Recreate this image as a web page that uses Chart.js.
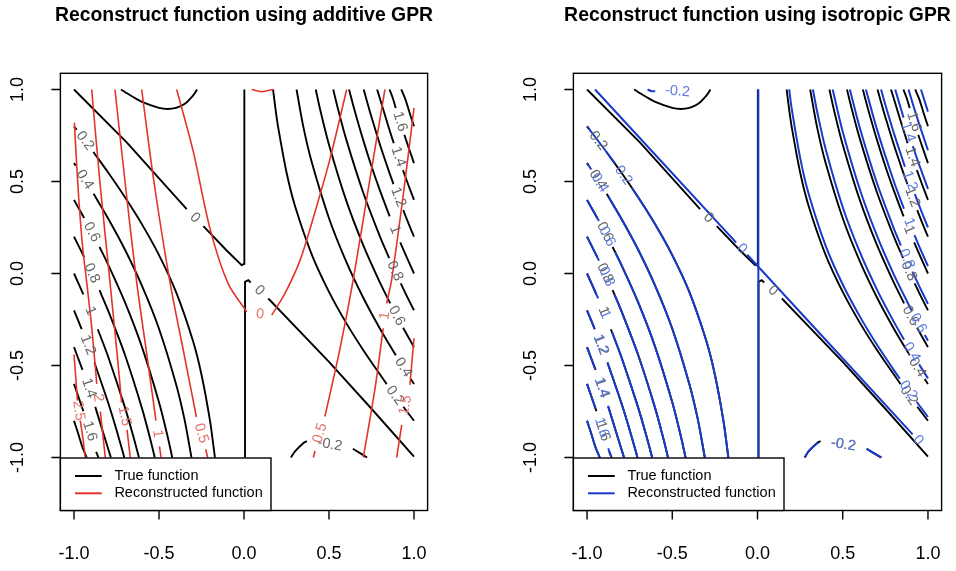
<!DOCTYPE html>
<html>
<head>
<meta charset="utf-8">
<script src="https://cdn.jsdelivr.net/npm/chart.js@4.4.1/dist/chart.umd.min.js"></script>
<style>
  html, body { margin: 0; padding: 0; background: #fff; }
  .panel { position: absolute; top: 0; width: 478px; height: 571px; }
  #left { left: 0; }
  #right { left: 478px; }
</style>
</head>
<body>
<div class="panel" id="left"><canvas id="additive" width="478" height="571"></canvas></div>
<div class="panel" id="right"><canvas id="isotropic" width="478" height="571"></canvas></div>
<script>
// axis ticks and texts
const xTicks = [-1, -0.5, 0, 0.5, 1];
const yTicks = [-1, -0.5, 0, 0.5, 1];
const tickText = ['-1.0', '-0.5', '0.0', '0.5', '1.0'];
const panelTitles = ['Reconstruct function using additive GPR', 'Reconstruct function using isotropic GPR'];
const legendLabels = ['True function', 'Reconstructed function'];

// contour lines: level label, line pieces [x, y], label spots
const trueNeg = [
  { level: '', segs: [[[-0.724, 1], [-0.7, 0.986], [-0.65, 0.958], [-0.6, 0.933], [-0.5, 0.9], [-0.45, 0.894], [-0.4, 0.9], [-0.35, 0.921], [-0.3, 0.967], [-0.276, 1]]] },
  { level: '-0.2', segs: [[[0.276, -1], [0.3, -0.967], [0.35, -0.921], [0.37, -0.911]], [[0.64, -0.953], [0.65, -0.958], [0.7, -0.986], [0.724, -1]]], at: [[0.505, -0.93]] }
];

const trueZero = [
  { level: '0', segs: [[[-1, 1], [-0.69, 0.713], [-0.337, 0.35]], [[-0.239, 0.257], [-0.102, 0.125], [-0.014, 0.045], [0.002, 0.052], [0.002, 1]]], at: [[-0.288, 0.303]] },
  { level: '0', segs: [[[0.006, -1], [0.006, -0.045], [0.025, -0.036], [0.039, -0.049]], [[0.143, -0.136], [0.5, -0.48], [0.75, -0.735], [1, -0.995]]], at: [[0.091, -0.093]] }
];

const trueLeft = [
  { level: '0.2', segs: [[[-1, 0.8], [-0.984, 0.781]], [[-0.886, 0.66], [-0.8, 0.55], [-0.7, 0.414], [-0.6, 0.267], [-0.5, 0.1], [-0.4, -0.1], [-0.3, -0.367], [-0.25, -0.55], [-0.2, -0.8], [-0.171, -1]]], at: [[-0.935, 0.721]] },
  { level: '0.4', segs: [[[-1, 0.6], [-0.99, 0.586]], [[-0.885, 0.433], [-0.8, 0.3], [-0.7, 0.129], [-0.6, -0.067], [-0.5, -0.3], [-0.4, -0.6], [-0.35, -0.793], [-0.309, -1]]], at: [[-0.937, 0.51]] },
  { level: '0.6', segs: [[[-1, 0.4], [-0.94, 0.302]], [[-0.85, 0.144], [-0.8, 0.05], [-0.7, -0.157], [-0.6, -0.4], [-0.5, -0.7], [-0.45, -0.883], [-0.422, -1]]], at: [[-0.895, 0.225]] },
  { level: '0.8', segs: [[[-1, 0.2], [-0.94, 0.089]], [[-0.85, -0.091], [-0.8, -0.2], [-0.7, -0.443], [-0.6, -0.733], [-0.55, -0.905], [-0.525, -1]]], at: [[-0.895, 0.001]] },
  { level: '1', segs: [[[-1, 0], [-0.945, -0.113]], [[-0.86, -0.303], [-0.8, -0.45], [-0.7, -0.729], [-0.65, -0.889], [-0.618, -1]]], at: [[-0.903, -0.204]] },
  { level: '1.2', segs: [[[-1, -0.2], [-0.955, -0.302]], [[-0.88, -0.484], [-0.8, -0.7], [-0.75, -0.85], [-0.704, -1]]], at: [[-0.918, -0.389]] },
  { level: '1.4', segs: [[[-1, -0.4], [-0.95, -0.524]], [[-0.875, -0.725], [-0.8, -0.95], [-0.783, -1]]], at: [[-0.912, -0.623]] },
  { level: '1.6', segs: [[[-1, -0.6], [-0.945, -0.748]], [[-0.87, -0.969], [-0.856, -1]]], at: [[-0.907, -0.857]] },
  { level: '', segs: [[[-1, -0.8], [-0.975, -0.871], [-0.95, -0.945], [-0.925, -1]]] }
];

const trueRight = [
  { level: '0.2', segs: [[[0.171, 1], [0.185, 0.896], [0.2, 0.8], [0.25, 0.55], [0.3, 0.367], [0.4, 0.1], [0.5, -0.1], [0.6, -0.267], [0.7, -0.414], [0.839, -0.601]], [[0.937, -0.724], [1, -0.8]]], at: [[0.888, -0.663]] },
  { level: '0.4', segs: [[[0.309, 1], [0.35, 0.793], [0.4, 0.6], [0.5, 0.3], [0.6, 0.067], [0.7, -0.129], [0.8, -0.3], [0.893, -0.445]], [[0.981, -0.573], [1, -0.6]]], at: [[0.937, -0.51]] },
  { level: '0.6', segs: [[[0.422, 1], [0.45, 0.883], [0.5, 0.7], [0.6, 0.4], [0.7, 0.157], [0.8, -0.05], [0.86, -0.162]], [[0.936, -0.295], [1, -0.4]]], at: [[0.898, -0.23]] },
  { level: '0.8', segs: [[[0.525, 1], [0.55, 0.905], [0.6, 0.733], [0.7, 0.443], [0.8, 0.2], [0.854, 0.083]], [[0.922, -0.054], [0.96, -0.127], [1, -0.2]]], at: [[0.888, 0.013]] },
  { level: '1', segs: [[[0.618, 1], [0.65, 0.889], [0.7, 0.729], [0.75, 0.583], [0.8, 0.45], [0.857, 0.31]], [[0.919, 0.169], [0.96, 0.082], [1, 0]]], at: [[0.888, 0.238]] },
  { level: '1.2', segs: [[[0.704, 1], [0.75, 0.85], [0.8, 0.7], [0.85, 0.562], [0.879, 0.486]], [[0.937, 0.344], [0.97, 0.267], [1, 0.2]]], at: [[0.908, 0.414]] },
  { level: '1.4', segs: [[[0.783, 1], [0.8, 0.95], [0.85, 0.797], [0.881, 0.708]], [[0.935, 0.562], [0.97, 0.473], [1, 0.4]]], at: [[0.908, 0.634]] },
  { level: '1.6', segs: [[[0.856, 1], [0.875, 0.954], [0.893, 0.899]], [[0.943, 0.754], [0.97, 0.68], [1, 0.6]]], at: [[0.918, 0.825]] },
  { level: '', segs: [[[0.925, 1], [0.95, 0.945], [0.975, 0.871], [1, 0.8]]] }
];

const additiveLines = [
  { level: '2.5', segs: [[[-1, -0.44], [-0.99, -0.56], [-0.98, -0.69]], [[-0.963, -0.8], [-0.95, -0.88], [-0.934, -1]]], at: [[-0.973, -0.745]] },
  { level: '2', segs: [[[-0.998, 0.82], [-0.975, 0.45], [-0.95, 0.15], [-0.925, -0.05], [-0.895, -0.3], [-0.866, -0.6]], [[-0.845, -0.75], [-0.816, -1]]], at: [[-0.858, -0.675]] },
  { level: '1.5', segs: [[[-0.896, 1], [-0.848, 0.5], [-0.788, -0.05], [-0.745, -0.45], [-0.72, -0.7]], [[-0.688, -0.85], [-0.669, -1]]], at: [[-0.703, -0.775]] },
  { level: '1', segs: [[[-0.759, 1], [-0.7, 0.5], [-0.631, -0.05], [-0.57, -0.45], [-0.518, -0.8]], [[-0.497, -0.94], [-0.488, -1]]], at: [[-0.508, -0.87]] },
  { level: '0.5', segs: [[[-0.602, 1], [-0.53, 0.5], [-0.435, -0.05], [-0.35, -0.45], [-0.28, -0.78]], [[-0.225, -0.955], [-0.214, -1]]], at: [[-0.252, -0.868]] },
  { level: '0', segs: [[[-0.396, 1], [-0.298, 0.661], [-0.2, 0.244], [-0.094, -0.054], [0.016, -0.208]], [[0.163, -0.226], [0.241, -0.108], [0.329, 0.07], [0.406, 0.298], [0.506, 0.623], [0.604, 1]]], at: [[0.094, -0.222]] },
  { level: '0.5', segs: [[[0.829, 1], [0.741, 0.515], [0.643, -0.03], [0.565, -0.407], [0.476, -0.777]], [[0.418, -0.965], [0.408, -1]]], at: [[0.447, -0.867]] },
  { level: '1', segs: [[[1, 0.9], [0.94, 0.45], [0.869, -0.03], [0.839, -0.163]], [[0.819, -0.298], [0.771, -0.623], [0.702, -1]]], at: [[0.829, -0.23]] },
  { level: '1.5', segs: [[[1, -0.352], [0.976, -0.605]], [[0.928, -0.822], [0.898, -1]]], at: [[0.95, -0.715]] },
  { level: '', segs: [[[0.045, 1], [0.104, 0.988], [0.172, 1]]] }
];

const isoNeg = [
  { level: '-0.2', segs: [[[-0.645, 1], [-0.625, 0.992], [-0.6, 0.99]]], at: [[-0.469, 0.99]] },
  { level: '-0.2', segs: [[[0.279, -1], [0.3, -0.965], [0.357, -0.918]], [[0.64, -0.953], [0.7, -0.986], [0.728, -1]]], at: [[0.503, -0.93]] }
];

const isoZero = [
  { level: '', segs: [[[0.005, 1], [0.005, -1]]] },
  { level: '0', segs: [[[-0.953, 1], [-0.125, 0.168]], [[-0.06, 0.102], [0.91, -0.874]]], at: [[-0.092, 0.135], [0.943, -0.906]] }
];

const isoLeft = [
  { level: '0.2', segs: [[[-1, 0.8], [-0.9, 0.678], [-0.836, 0.597]], [[-0.738, 0.467], [-0.7, 0.414], [-0.6, 0.267], [-0.5, 0.1], [-0.4, -0.1], [-0.3, -0.367], [-0.25, -0.55], [-0.2, -0.8], [-0.171, -1]]], at: [[-0.787, 0.533]] },
  { level: '0.4', segs: [[[-1, 0.6], [-0.975, 0.565]], [[-0.875, 0.418], [-0.8, 0.3], [-0.7, 0.129], [-0.6, -0.067], [-0.5, -0.3], [-0.4, -0.6], [-0.35, -0.793], [-0.309, -1]]], at: [[-0.925, 0.493]] },
  { level: '0.6', segs: [[[-1, 0.4], [-0.93, 0.285]], [[-0.835, 0.116], [-0.8, 0.05], [-0.7, -0.157], [-0.6, -0.4], [-0.5, -0.7], [-0.45, -0.883], [-0.422, -1]]], at: [[-0.882, 0.2]] },
  { level: '0.8', segs: [[[-1, 0.2], [-0.93, 0.07]], [[-0.84, -0.112], [-0.8, -0.2], [-0.7, -0.443], [-0.6, -0.733], [-0.55, -0.905], [-0.525, -1]]], at: [[-0.886, -0.017]] },
  { level: '1', segs: [[[-1, 0], [-0.935, -0.135]], [[-0.853, -0.319], [-0.8, -0.45], [-0.7, -0.729], [-0.65, -0.889], [-0.618, -1]]], at: [[-0.895, -0.222]] },
  { level: '1.2', segs: [[[-1, -0.2], [-0.955, -0.302]], [[-0.88, -0.484], [-0.8, -0.7], [-0.75, -0.85], [-0.704, -1]]], at: [[-0.92, -0.384]] },
  { level: '1.4', segs: [[[-1, -0.4], [-0.952, -0.519]], [[-0.877, -0.719], [-0.8, -0.95], [-0.783, -1]]], at: [[-0.914, -0.618]] },
  { level: '1.6', segs: [[[-1, -0.6], [-0.95, -0.734]], [[-0.876, -0.95], [-0.856, -1]]], at: [[-0.914, -0.837]] },
  { level: '', segs: [[[-1, -0.8], [-0.975, -0.871], [-0.95, -0.945], [-0.925, -1]]] }
];

const isoRight = [
  { level: '0.2', segs: [[[0.186, 1], [0.2, 0.9], [0.25, 0.63], [0.3, 0.433], [0.4, 0.15], [0.5, -0.06], [0.6, -0.233], [0.7, -0.386], [0.8, -0.525], [0.835, -0.572]], [[0.933, -0.697], [1, -0.78]]], at: [[0.884, -0.635]] },
  { level: '0.4', segs: [[[0.325, 1], [0.35, 0.879], [0.4, 0.675], [0.5, 0.36], [0.6, 0.117], [0.7, -0.086], [0.8, -0.263], [0.86, -0.36]], [[0.948, -0.494], [1, -0.57]]], at: [[0.904, -0.428]] },
  { level: '0.6', segs: [[[0.441, 1], [0.5, 0.77], [0.6, 0.458], [0.7, 0.207], [0.8, -0.006], [0.905, -0.203]], [[0.981, -0.334], [1, -0.365]]], at: [[0.943, -0.27]] },
  { level: '0.8', segs: [[[0.542, 1], [0.6, 0.792], [0.7, 0.493], [0.8, 0.244], [0.841, 0.152]], [[0.909, 0.01], [0.95, -0.071], [1, -0.165]]], at: [[0.875, 0.079]] },
  { level: '1', segs: [[[0.636, 1], [0.7, 0.786], [0.8, 0.5], [0.859, 0.352]], [[0.921, 0.208], [0.96, 0.123], [1, 0.04]]], at: [[0.89, 0.279]] },
  { level: '1.2', segs: [[[0.725, 1], [0.75, 0.917], [0.8, 0.763], [0.865, 0.58]], [[0.923, 0.431], [0.96, 0.342], [1, 0.25]]], at: [[0.894, 0.504]] },
  { level: '1.4', segs: [[[0.808, 1], [0.85, 0.868], [0.857, 0.847]], [[0.911, 0.692], [0.95, 0.587], [1, 0.46]]], at: [[0.884, 0.768]] },
  { level: '', segs: [[[0.886, 1], [0.92, 0.895], [0.96, 0.78], [1, 0.67]]] },
  { level: '', segs: [[[0.959, 1], [0.98, 0.938], [1, 0.88]]] }
];

const FONT = '"Liberation Sans", Arial, Helvetica, sans-serif';
const BLACK = '#000000', RED = '#e3342b', BLUE = '#1a3acc';

function toDatasets(lines, color, width, order, tension) {
  const out = [];
  lines.forEach(line => line.segs.forEach(seg => out.push({
    data: seg.map(([x, y]) => ({ x, y })),
    showLine: true,
    borderColor: color,
    borderWidth: width,
    pointRadius: 0,
    pointHoverRadius: 0,
    fill: false,
    tension,
    order
  })));
  return out;
}

function drawContourLabels(chart, lines, color) {
  const { ctx, scales: { x, y } } = chart;
  ctx.save();
  ctx.fillStyle = color;
  ctx.font = '14.5px ' + FONT;
  ctx.textAlign = 'center';
  ctx.textBaseline = 'middle';
  lines.forEach(line => {
    if (!Array.isArray(line.at)) return;
    line.at.forEach(([lx, ly]) => {
      const px = x.getPixelForValue(lx), py = y.getPixelForValue(ly);
      const pts = line.segs.flat().map(([a, b]) => [x.getPixelForValue(a), y.getPixelForValue(b)]);
      const d = p => Math.hypot(p[0] - px, p[1] - py);
      pts.sort((p, q) => d(p) - d(q));
      const p1 = pts[0];
      const p2 = pts.find(p => Math.hypot(p[0] - p1[0], p[1] - p1[1]) > 2) || [p1[0] + 1, p1[1]];
      let ang = Math.atan2(p2[1] - p1[1], p2[0] - p1[0]);
      if (ang > Math.PI / 2) ang -= Math.PI;
      if (ang < -Math.PI / 2) ang += Math.PI;
      ctx.save();
      ctx.translate(px, py);
      ctx.rotate(ang);
      ctx.fillText(line.level, 0, 0);
      ctx.restore();
    });
  });
  ctx.restore();
}

// R-style frame, axes, title, legend and contour labels
function rFrame(title, fitColor, labelSets) {
  return {
    id: 'rFrame',
    afterDatasetsDraw(chart) {
      labelSets.forEach(s => drawContourLabels(chart, s.lines, s.color));
    },
    afterDraw(chart) {
      const { ctx, chartArea: a, scales: { x, y } } = chart;
      ctx.save();
      ctx.strokeStyle = '#000';
      ctx.lineWidth = 1.4;
      ctx.strokeRect(a.left, a.top, a.right - a.left, a.bottom - a.top);

      ctx.beginPath();
      xTicks.forEach(v => {
        const px = x.getPixelForValue(v);
        ctx.moveTo(px, a.bottom);
        ctx.lineTo(px, a.bottom + 9);
      });
      yTicks.forEach(v => {
        const py = y.getPixelForValue(v);
        ctx.moveTo(a.left, py);
        ctx.lineTo(a.left - 9, py);
      });
      ctx.stroke();

      ctx.fillStyle = '#000';
      ctx.font = '18px ' + FONT;
      ctx.textAlign = 'center';
      ctx.textBaseline = 'middle';
      xTicks.forEach((v, i) => ctx.fillText(tickText[i], x.getPixelForValue(v), a.bottom + 44));
      yTicks.forEach((v, i) => {
        ctx.save();
        ctx.translate(a.left - 42, y.getPixelForValue(v));
        ctx.rotate(-Math.PI / 2);
        ctx.fillText(tickText[i], 0, 0);
        ctx.restore();
      });

      ctx.font = 'bold 19.4px ' + FONT;
      ctx.fillText(title, (a.left + a.right) / 2, 16);

      // legend, bottom left inside the box
      const lw = 210.6, lh = 52.5, lx = a.left, ly = a.bottom - lh;
      ctx.fillStyle = '#fff';
      ctx.fillRect(lx, ly, lw, lh);
      ctx.strokeRect(lx, ly, lw, lh);
      ctx.font = '14.5px ' + FONT;
      ctx.textAlign = 'left';
      [BLACK, fitColor].forEach((c, i) => {
        const yy = a.bottom - 34.5 + i * 17.3;
        ctx.strokeStyle = c;
        ctx.lineWidth = 2;
        ctx.beginPath();
        ctx.moveTo(lx + 14.6, yy);
        ctx.lineTo(lx + 41.3, yy);
        ctx.stroke();
        ctx.fillStyle = '#000';
        ctx.fillText(legendLabels[i], lx + 54, yy);
      });
      ctx.restore();
    }
  };
}

function makePanel(id, title, fitColor, fitWidth, fitLines, pad) {
  const trueSets = [
    ...toDatasets(trueZero, BLACK, 1.9, 3, 0),
    ...toDatasets([...trueNeg, ...trueLeft, ...trueRight], BLACK, 1.9, 3, 0.3)
  ];
  const fitSets = toDatasets(fitLines, fitColor, fitWidth, 1, 0.3);
  const labelSets = [
    { lines: [...trueZero, ...trueNeg, ...trueLeft, ...trueRight], color: '#666666' },
    { lines: fitLines, color: fitColor === RED ? '#e7736b' : '#5a7ae0' }
  ];
  new Chart(document.getElementById(id), {
    type: 'scatter',
    data: { datasets: [...trueSets, ...fitSets] },
    options: {
      responsive: false,
      animation: false,
      devicePixelRatio: 1,
      events: [],
      layout: { padding: pad },
      scales: {
        x: { type: 'linear', min: -1.08, max: 1.08, display: false },
        y: { type: 'linear', min: -1.288, max: 1.088, display: false }
      },
      plugins: {
        legend: { display: false },
        tooltip: { enabled: false }
      }
    },
    plugins: [rFrame(title, fitColor, labelSets)]
  });
}

makePanel('additive', panelTitles[0], RED, 1.6, additiveLines,
  { left: 60.4, right: 50.4, top: 73.3, bottom: 60.5 });
makePanel('isotropic', panelTitles[1], BLUE, 2, [...isoZero, ...isoNeg, ...isoLeft, ...isoRight],
  { left: 95.4, right: 14.4, top: 73.3, bottom: 60.5 });
</script>
</body>
</html>
